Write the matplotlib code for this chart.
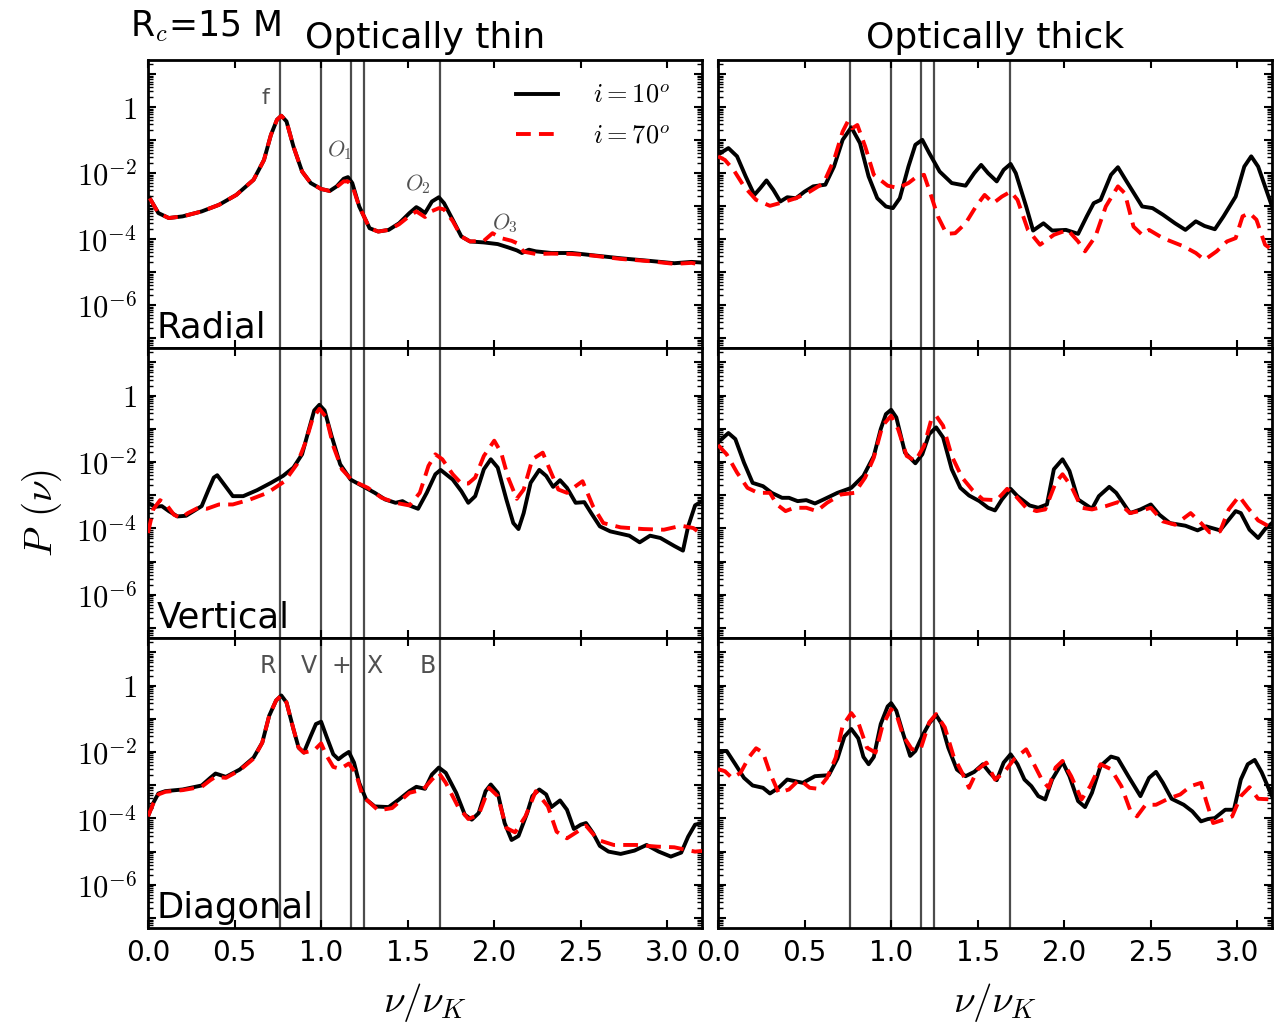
import numpy as np
import matplotlib
matplotlib.use('Agg')
import matplotlib.pyplot as plt
from matplotlib.ticker import FixedLocator, FuncFormatter, LogLocator, NullFormatter

plt.rcParams['mathtext.fontset'] = 'cm'
plt.rcParams['font.family'] = 'DejaVu Sans'

###### data: x = nu/nu_K, values are log10 P(nu)

mode_freqs = [0.765, 1.0, 1.175, 1.25, 1.685]
mode_names = ['R', 'V', '+', 'X', 'B']
mode_name_x = [0.694, 0.929, 1.116, 1.306, 1.616]

# Radial, optically thin
rad_thin_x10 = [0.01, 0.06, 0.12, 0.20, 0.31, 0.41, 0.51, 0.61, 0.67, 0.71, 0.745, 0.77, 0.80, 0.84, 0.89, 0.94, 1.00, 1.05, 1.09, 1.13, 1.155, 1.18, 1.22, 1.28, 1.33, 1.39, 1.45, 1.51, 1.55, 1.57, 1.60, 1.64, 1.68, 1.71, 1.76, 1.81, 1.86, 1.94, 2.02, 2.08, 2.13, 2.16, 2.20, 2.24, 2.33, 2.45, 2.57, 2.73, 2.90, 3.04, 3.14, 3.20]
rad_thin_p10 = [-2.76, -3.21, -3.36, -3.31, -3.16, -2.96, -2.66, -2.20, -1.60, -0.84, -0.38, -0.26, -0.43, -1.19, -1.95, -2.30, -2.48, -2.54, -2.40, -2.17, -2.12, -2.30, -3.01, -3.67, -3.77, -3.72, -3.52, -3.21, -3.03, -3.09, -3.21, -2.86, -2.73, -2.91, -3.41, -3.92, -4.07, -4.10, -4.15, -4.25, -4.34, -4.42, -4.32, -4.37, -4.42, -4.42, -4.49, -4.58, -4.66, -4.73, -4.69, -4.71]
rad_thin_x70 = [0.01, 0.06, 0.12, 0.20, 0.31, 0.41, 0.51, 0.61, 0.67, 0.71, 0.745, 0.77, 0.80, 0.84, 0.89, 0.94, 1.00, 1.05, 1.09, 1.13, 1.155, 1.18, 1.22, 1.28, 1.33, 1.39, 1.45, 1.51, 1.55, 1.60, 1.64, 1.68, 1.71, 1.76, 1.81, 1.86, 1.94, 1.99, 2.04, 2.10, 2.13, 2.17, 2.24, 2.33, 2.45, 2.57, 2.73, 2.90, 3.04, 3.14, 3.20]
rad_thin_p70 = [-2.76, -3.21, -3.36, -3.31, -3.16, -2.96, -2.66, -2.20, -1.60, -0.84, -0.38, -0.26, -0.43, -1.19, -1.95, -2.30, -2.48, -2.54, -2.42, -2.25, -2.25, -2.38, -3.01, -3.67, -3.77, -3.72, -3.55, -3.30, -3.16, -3.33, -3.15, -3.06, -3.10, -3.45, -3.92, -4.07, -4.05, -3.82, -3.97, -4.05, -4.12, -4.38, -4.45, -4.44, -4.45, -4.50, -4.60, -4.67, -4.75, -4.72, -4.78]

# Radial, optically thick
rad_thick_x10 = [0.0, 0.06, 0.11, 0.16, 0.21, 0.245, 0.28, 0.32, 0.36, 0.40, 0.45, 0.50, 0.55, 0.62, 0.67, 0.72, 0.77, 0.82, 0.87, 0.92, 0.97, 1.01, 1.05, 1.10, 1.14, 1.18, 1.22, 1.28, 1.35, 1.43, 1.48, 1.52, 1.56, 1.61, 1.65, 1.69, 1.72, 1.78, 1.82, 1.88, 1.93, 2.01, 2.08, 2.13, 2.17, 2.21, 2.27, 2.31, 2.36, 2.45, 2.51, 2.57, 2.64, 2.70, 2.76, 2.81, 2.87, 2.92, 2.99, 3.04, 3.08, 3.12, 3.20]
rad_thick_p10 = [-1.44, -1.24, -1.49, -2.10, -2.66, -2.45, -2.22, -2.51, -2.86, -2.73, -2.76, -2.56, -2.40, -2.35, -1.80, -0.99, -0.61, -1.09, -2.10, -2.76, -3.01, -3.06, -2.76, -1.80, -1.14, -0.99, -1.39, -1.95, -2.30, -2.38, -2.00, -1.75, -2.00, -2.25, -1.90, -1.72, -2.00, -3.01, -3.74, -3.52, -3.74, -3.72, -3.84, -3.31, -2.91, -2.81, -2.05, -1.82, -2.25, -3.01, -3.06, -3.26, -3.52, -3.72, -3.46, -3.60, -3.70, -3.31, -2.71, -1.80, -1.49, -1.80, -3.01]
rad_thick_x70 = [0.0, 0.04, 0.09, 0.15, 0.22, 0.30, 0.37, 0.45, 0.53, 0.61, 0.67, 0.72, 0.75, 0.775, 0.805, 0.85, 0.90, 0.98, 1.04, 1.10, 1.15, 1.19, 1.22, 1.27, 1.32, 1.37, 1.43, 1.49, 1.54, 1.59, 1.64, 1.69, 1.73, 1.79, 1.86, 1.94, 2.02, 2.08, 2.12, 2.18, 2.24, 2.31, 2.35, 2.40, 2.45, 2.49, 2.57, 2.69, 2.76, 2.81, 2.88, 2.94, 2.99, 3.03, 3.07, 3.11, 3.16, 3.20]
rad_thick_p70 = [-1.49, -1.60, -1.90, -2.40, -2.81, -2.99, -2.89, -2.76, -2.56, -2.30, -1.60, -0.74, -0.43, -0.64, -0.54, -1.19, -2.05, -2.38, -2.45, -2.30, -2.10, -2.05, -2.51, -3.31, -3.84, -3.82, -3.52, -3.01, -2.66, -2.91, -2.71, -2.56, -2.81, -3.72, -4.17, -3.87, -3.72, -4.07, -4.37, -3.92, -3.01, -2.40, -2.61, -3.62, -3.87, -3.72, -3.97, -4.22, -4.42, -4.63, -4.37, -4.07, -3.97, -3.31, -3.21, -3.41, -4.17, -4.32]

# Vertical, optically thin
ver_thin_x10 = [0.0, 0.04, 0.08, 0.12, 0.17, 0.22, 0.31, 0.35, 0.38, 0.40, 0.44, 0.49, 0.55, 0.63, 0.71, 0.78, 0.84, 0.89, 0.93, 0.96, 0.99, 1.02, 1.06, 1.11, 1.17, 1.24, 1.31, 1.37, 1.43, 1.47, 1.52, 1.56, 1.61, 1.66, 1.69, 1.76, 1.81, 1.85, 1.89, 1.94, 1.98, 2.02, 2.07, 2.11, 2.14, 2.17, 2.21, 2.26, 2.30, 2.34, 2.38, 2.42, 2.47, 2.52, 2.56, 2.61, 2.67, 2.78, 2.84, 2.90, 2.96, 3.04, 3.09, 3.12, 3.16, 3.20]
ver_thin_p10 = [-3.23, -3.35, -3.33, -3.48, -3.64, -3.62, -3.33, -2.83, -2.47, -2.40, -2.68, -3.03, -3.03, -2.85, -2.63, -2.42, -2.17, -1.77, -1.01, -0.45, -0.28, -0.45, -1.21, -2.07, -2.53, -2.73, -2.93, -3.13, -3.23, -3.18, -3.33, -3.41, -2.93, -2.37, -2.24, -2.53, -2.88, -3.23, -3.03, -2.22, -1.92, -2.17, -3.13, -3.84, -4.02, -3.54, -2.63, -2.24, -2.42, -2.75, -2.55, -2.78, -3.23, -3.21, -3.54, -3.94, -4.09, -4.22, -4.42, -4.22, -4.29, -4.53, -4.67, -3.94, -3.31, -3.18]
ver_thin_x70 = [0.0, 0.03, 0.07, 0.11, 0.15, 0.19, 0.23, 0.29, 0.34, 0.41, 0.49, 0.59, 0.69, 0.79, 0.86, 0.91, 0.95, 0.99, 1.03, 1.07, 1.12, 1.18, 1.27, 1.35, 1.43, 1.51, 1.57, 1.62, 1.66, 1.70, 1.76, 1.81, 1.85, 1.89, 1.94, 2.00, 2.04, 2.08, 2.13, 2.17, 2.22, 2.28, 2.32, 2.37, 2.42, 2.47, 2.51, 2.57, 2.63, 2.73, 2.86, 2.98, 3.08, 3.15, 3.20]
ver_thin_p70 = [-4.14, -3.43, -3.15, -3.31, -3.59, -3.69, -3.54, -3.38, -3.41, -3.28, -3.28, -3.13, -2.93, -2.58, -2.07, -1.41, -0.71, -0.40, -0.66, -1.52, -2.22, -2.56, -2.78, -3.08, -3.23, -3.31, -2.93, -2.12, -1.77, -1.92, -2.37, -2.65, -2.65, -2.47, -1.82, -1.36, -1.72, -2.47, -3.11, -2.83, -1.92, -1.72, -2.22, -2.83, -2.93, -2.73, -2.58, -3.33, -3.84, -3.97, -4.02, -4.04, -3.92, -3.99, -4.19]

# Vertical, optically thick
ver_thick_x10 = [0.0, 0.06, 0.10, 0.15, 0.20, 0.26, 0.31, 0.37, 0.41, 0.46, 0.51, 0.56, 0.61, 0.69, 0.77, 0.84, 0.90, 0.94, 0.97, 1.00, 1.03, 1.08, 1.14, 1.18, 1.22, 1.26, 1.30, 1.35, 1.40, 1.45, 1.51, 1.56, 1.60, 1.64, 1.69, 1.73, 1.80, 1.85, 1.90, 1.94, 1.99, 2.03, 2.08, 2.16, 2.20, 2.26, 2.30, 2.38, 2.44, 2.50, 2.55, 2.61, 2.70, 2.77, 2.82, 2.90, 2.95, 2.99, 3.02, 3.07, 3.12, 3.16, 3.20]
ver_thick_p10 = [-1.41, -1.13, -1.31, -2.02, -2.63, -2.73, -2.93, -3.08, -3.08, -3.18, -3.15, -3.25, -3.13, -2.93, -2.78, -2.42, -1.82, -1.01, -0.56, -0.43, -0.66, -1.72, -2.04, -1.77, -1.16, -0.96, -1.26, -2.22, -2.78, -3.01, -3.18, -3.38, -3.46, -3.13, -2.81, -3.03, -3.31, -3.38, -3.28, -2.22, -1.92, -2.27, -3.13, -3.41, -3.03, -2.75, -2.93, -3.54, -3.43, -3.28, -3.59, -3.84, -3.92, -4.06, -3.94, -4.06, -3.74, -3.48, -3.54, -4.04, -4.29, -4.02, -3.84]
ver_thick_x70 = [0.0, 0.05, 0.11, 0.17, 0.23, 0.30, 0.34, 0.39, 0.44, 0.51, 0.57, 0.63, 0.71, 0.79, 0.85, 0.90, 0.95, 1.00, 1.04, 1.09, 1.14, 1.19, 1.23, 1.26, 1.30, 1.35, 1.41, 1.47, 1.53, 1.61, 1.67, 1.72, 1.78, 1.84, 1.89, 1.95, 1.99, 2.04, 2.10, 2.16, 2.24, 2.31, 2.38, 2.45, 2.50, 2.57, 2.64, 2.73, 2.79, 2.84, 2.90, 2.95, 3.01, 3.06, 3.12, 3.20]
ver_thick_p70 = [-1.49, -1.77, -2.32, -2.78, -2.93, -2.93, -3.28, -3.48, -3.38, -3.38, -3.48, -3.23, -2.98, -2.93, -2.47, -1.87, -0.91, -0.61, -1.01, -1.82, -1.97, -1.52, -0.76, -0.61, -0.91, -1.82, -2.47, -2.85, -3.13, -3.15, -2.81, -3.03, -3.38, -3.48, -3.43, -2.63, -2.37, -2.73, -3.38, -3.43, -3.33, -3.21, -3.54, -3.46, -3.38, -3.79, -3.89, -3.54, -3.84, -4.12, -4.09, -3.43, -3.03, -3.38, -3.76, -3.99]

# Diagonal, optically thin
dia_thin_x10 = [0.0, 0.03, 0.06, 0.10, 0.20, 0.31, 0.36, 0.39, 0.45, 0.53, 0.61, 0.66, 0.70, 0.74, 0.77, 0.80, 0.84, 0.87, 0.90, 0.94, 0.97, 1.00, 1.03, 1.07, 1.10, 1.13, 1.16, 1.19, 1.22, 1.26, 1.31, 1.39, 1.45, 1.51, 1.55, 1.60, 1.64, 1.68, 1.72, 1.78, 1.83, 1.87, 1.91, 1.95, 1.98, 2.02, 2.06, 2.10, 2.14, 2.19, 2.22, 2.26, 2.30, 2.33, 2.38, 2.42, 2.46, 2.50, 2.53, 2.57, 2.61, 2.66, 2.73, 2.81, 2.88, 2.95, 3.02, 3.08, 3.12, 3.16, 3.20]
dia_thin_p10 = [-3.94, -3.54, -3.25, -3.18, -3.13, -3.01, -2.78, -2.65, -2.75, -2.53, -2.17, -1.72, -0.91, -0.45, -0.30, -0.51, -1.31, -1.87, -2.02, -1.52, -1.16, -1.09, -1.52, -2.07, -2.22, -2.10, -2.00, -2.32, -2.93, -3.43, -3.64, -3.66, -3.43, -3.18, -3.05, -3.11, -2.68, -2.47, -2.63, -3.23, -3.89, -4.04, -3.84, -3.18, -2.98, -3.23, -4.14, -4.65, -4.53, -3.84, -3.33, -3.13, -3.28, -3.66, -3.46, -3.74, -4.32, -4.19, -4.14, -4.44, -4.83, -5.00, -5.07, -4.97, -4.80, -5.00, -5.15, -5.03, -4.55, -4.19, -4.14]
dia_thin_x70 = [0.0, 0.03, 0.06, 0.10, 0.20, 0.31, 0.36, 0.39, 0.45, 0.53, 0.61, 0.66, 0.70, 0.74, 0.77, 0.80, 0.84, 0.87, 0.90, 0.96, 1.00, 1.03, 1.07, 1.11, 1.16, 1.20, 1.24, 1.33, 1.41, 1.51, 1.59, 1.64, 1.68, 1.72, 1.79, 1.85, 1.91, 1.97, 2.02, 2.07, 2.12, 2.18, 2.24, 2.31, 2.36, 2.42, 2.48, 2.53, 2.60, 2.69, 2.82, 2.94, 3.04, 3.11, 3.16, 3.20]
dia_thin_p70 = [-3.94, -3.56, -3.28, -3.20, -3.15, -3.05, -2.85, -2.75, -2.78, -2.55, -2.20, -1.72, -0.91, -0.45, -0.30, -0.51, -1.31, -1.87, -2.02, -1.95, -1.74, -2.10, -2.45, -2.51, -2.35, -2.63, -3.33, -3.76, -3.69, -3.23, -3.13, -2.83, -2.63, -2.93, -3.64, -4.02, -3.89, -3.08, -3.33, -4.29, -4.42, -3.94, -3.18, -3.64, -4.40, -4.60, -4.40, -4.22, -4.65, -4.80, -4.80, -4.85, -4.87, -4.95, -5.00, -4.98]

# Diagonal, optically thick
dia_thick_x10 = [0.0, 0.05, 0.10, 0.15, 0.20, 0.26, 0.30, 0.35, 0.40, 0.49, 0.56, 0.64, 0.69, 0.73, 0.77, 0.81, 0.84, 0.87, 0.90, 0.94, 0.98, 1.00, 1.03, 1.07, 1.11, 1.14, 1.18, 1.22, 1.26, 1.29, 1.33, 1.38, 1.43, 1.48, 1.53, 1.57, 1.61, 1.65, 1.69, 1.73, 1.77, 1.81, 1.85, 1.89, 1.93, 1.99, 2.03, 2.08, 2.12, 2.16, 2.21, 2.27, 2.31, 2.37, 2.44, 2.49, 2.53, 2.57, 2.62, 2.69, 2.74, 2.79, 2.83, 2.87, 2.93, 2.98, 3.02, 3.06, 3.10, 3.14, 3.20]
dia_thick_p10 = [-1.97, -1.97, -2.37, -2.78, -3.01, -3.08, -3.25, -3.08, -2.83, -2.93, -2.73, -2.70, -2.20, -1.54, -1.31, -1.59, -2.15, -2.37, -2.15, -1.16, -0.63, -0.53, -0.76, -1.46, -2.12, -1.97, -1.52, -1.14, -0.89, -1.14, -1.87, -2.53, -2.73, -2.60, -2.37, -2.63, -2.85, -2.32, -2.07, -2.37, -2.83, -3.03, -3.33, -3.43, -2.83, -2.30, -2.73, -3.48, -3.66, -3.23, -2.42, -2.14, -2.20, -2.73, -3.33, -2.78, -2.60, -2.93, -3.41, -3.59, -3.79, -4.09, -4.02, -3.99, -3.74, -3.74, -2.83, -2.37, -2.24, -2.61, -3.33]
dia_thick_x70 = [0.0, 0.04, 0.08, 0.13, 0.18, 0.22, 0.26, 0.30, 0.35, 0.41, 0.47, 0.53, 0.58, 0.63, 0.68, 0.72, 0.77, 0.81, 0.86, 0.91, 0.95, 1.00, 1.03, 1.07, 1.12, 1.17, 1.22, 1.26, 1.31, 1.36, 1.41, 1.45, 1.50, 1.55, 1.60, 1.65, 1.71, 1.78, 1.83, 1.87, 1.91, 1.95, 1.99, 2.04, 2.10, 2.15, 2.21, 2.27, 2.33, 2.38, 2.42, 2.47, 2.53, 2.60, 2.67, 2.73, 2.79, 2.82, 2.86, 2.92, 2.97, 3.02, 3.07, 3.12, 3.20]
dia_thick_p70 = [-2.52, -2.58, -2.78, -2.63, -2.15, -1.89, -2.02, -2.63, -3.23, -3.13, -2.83, -3.08, -3.11, -2.78, -2.17, -1.21, -0.83, -1.11, -1.87, -2.02, -1.21, -0.71, -0.86, -1.52, -1.92, -1.92, -1.11, -0.86, -1.26, -2.12, -2.63, -3.08, -2.53, -2.32, -2.83, -2.63, -2.22, -1.92, -2.42, -2.83, -3.08, -2.47, -2.27, -2.73, -3.43, -3.03, -2.37, -2.52, -3.03, -3.74, -3.94, -3.59, -3.59, -3.41, -3.28, -3.03, -2.93, -3.48, -4.14, -4.04, -3.94, -3.33, -3.06, -3.41, -3.43]


def dress_axis(ax, bottom, left):
    ax.set_xlim(0, 3.2)
    ax.set_ylim(10**-7.3, 10**1.43)
    ax.set_yscale('log')
    ax.yaxis.set_major_locator(FixedLocator(10.0**np.arange(-7, 2)))
    ax.yaxis.set_minor_locator(LogLocator(base=10, subs=np.arange(2, 10), numticks=100))
    ax.yaxis.set_minor_formatter(NullFormatter())

    def ylab(v, pos):
        e = int(round(np.log10(v)))
        if e == 0:
            return r'$1$'
        if e % 2 == 0 and e < 0:
            return r'$10^{%d}$' % e
        return ''
    ax.yaxis.set_major_formatter(FuncFormatter(ylab))
    ax.set_xticks(np.arange(0, 3.01, 0.5))
    ax.xaxis.set_major_formatter(FuncFormatter(lambda v, p: '%.1f' % v))
    ax.tick_params(which='both', direction='in', top=True, right=True)
    ax.tick_params(which='major', length=6, width=1.5, labelsize=20, pad=8)
    ax.tick_params(which='minor', length=3.5, width=1)
    ax.tick_params(axis='y', which='major', labelsize=22)
    if not bottom:
        ax.tick_params(labelbottom=False)
    if not left:
        ax.tick_params(labelleft=False)
    for s in ax.spines.values():
        s.set_linewidth(2)
    for f in mode_freqs:
        ax.axvline(f, color='k', alpha=0.7, lw=1.6, zorder=1)


def draw(ax, x10, p10, x70, p70):
    ax.plot(x10, 10**np.array(p10), color='k', lw=2.8, label=r'$i=10^o$', zorder=3)
    ax.plot(x70, 10**np.array(p70), color='red', ls=(0, (3.8, 2.1)), lw=2.8,
            label=r'$i=70^o$', zorder=4)


def main():
    fig = plt.figure(figsize=(12.86, 10.27), dpi=100)
    lefts = [148/1286, 718/1286]
    w = 554/1286
    tops = [60, 348, 638, 928]
    axes = []
    for r in range(3):
        row = []
        for c in range(2):
            b = 1 - tops[r+1]/1027
            h = (tops[r+1]-tops[r])/1027
            ax = fig.add_axes([lefts[c], b, w, h])
            dress_axis(ax, bottom=(r == 2), left=(c == 0))
            row.append(ax)
        axes.append(row)

    draw(axes[0][0], rad_thin_x10, rad_thin_p10, rad_thin_x70, rad_thin_p70)
    draw(axes[0][1], rad_thick_x10, rad_thick_p10, rad_thick_x70, rad_thick_p70)
    draw(axes[1][0], ver_thin_x10, ver_thin_p10, ver_thin_x70, ver_thin_p70)
    draw(axes[1][1], ver_thick_x10, ver_thick_p10, ver_thick_x70, ver_thick_p70)
    draw(axes[2][0], dia_thin_x10, dia_thin_p10, dia_thin_x70, dia_thin_p70)
    draw(axes[2][1], dia_thick_x10, dia_thick_p10, dia_thick_x70, dia_thick_p70)

    for r, name in enumerate(['Radial', 'Vertical', 'Diagonal']):
        axes[r][0].text(0.015, 0.035, name, transform=axes[r][0].transAxes,
                        fontsize=25.5, va='baseline', ha='left')

    axes[0][0].set_title('Optically thin', fontsize=26, pad=9)
    axes[0][1].set_title('Optically thick', fontsize=26, pad=9)
    fig.text(130/1286, 1-36/1027, r'R$_c$=15 M', fontsize=25, va='baseline', ha='left')

    gray = '#505050'
    a = axes[0][0]
    a.text(0.68, 10**0.27, 'f', color=gray, fontsize=16, ha='center', va='center')
    a.text(1.11, 10**-1.29, r'$O_1$', color=gray, fontsize=16, ha='center', va='center')
    a.text(1.56, 10**-2.32, r'$O_2$', color=gray, fontsize=16, ha='center', va='center')
    a.text(2.06, 10**-3.52, r'$O_3$', color=gray, fontsize=16, ha='center', va='center')
    for nx, nm in zip(mode_name_x, mode_names):
        axes[2][0].text(nx, 10**0.59, nm, color=gray, fontsize=17, ha='center', va='center')

    a.legend(loc='upper right', bbox_to_anchor=(0.975, 0.985), frameon=False, fontsize=19,
             handlelength=1.6, handletextpad=1.3, borderaxespad=0.3, labelspacing=0.55)

    fig.text(42/1286, 0.5, r'$P\;\,(\nu)$', rotation=90, fontsize=28, ha='center', va='center')
    for c in range(2):
        fig.text(lefts[c] + w/2, 1-1003/1027, r'$\nu/\nu_K$', fontsize=28, ha='center', va='center')

    fig.savefig('out.png', dpi=100)


if __name__ == "__main__":
    main()
